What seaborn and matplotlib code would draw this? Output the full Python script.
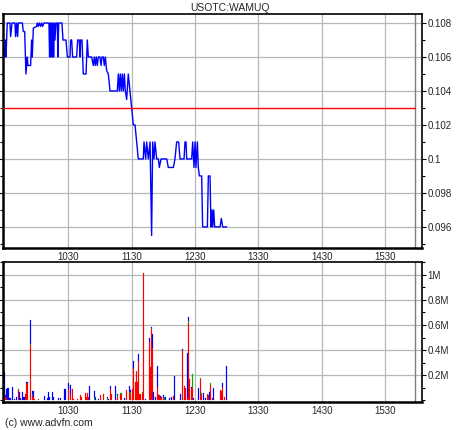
import matplotlib
matplotlib.use("Agg")
import matplotlib.pyplot as plt
from matplotlib.ticker import MultipleLocator
import seaborn as sns
import numpy as np
import pandas as pd

# ---------------- data ----------------
title = "USOTC:WAMUQ"
credit = "(c) www.advfn.com"
x_tick_labels = ["1030", "1130", "1230", "1330", "1430", "1530"]
session_window = ["0928", "1605"]
session_end = "1558"

price_ticks = [0.108, 0.106, 0.104, 0.102, 0.100, 0.098, 0.096]
price_tick_labels = ["0.108", "0.106", "0.104", "0.102", "0.1", "0.098", "0.096"]
vol_ticks = [1.0e6, 0.8e6, 0.6e6, 0.4e6, 0.2e6]
vol_tick_labels = ["1M", "0.8M", "0.6M", "0.4M", "0.2M"]
prev_close = 0.103

# trade times (minutes after midnight) and prices
price_times = [567.9, 568.6, 569.8, 570.5, 571.1, 572.3, 574.9, 575.5, 576.8, 579.6,
               580.2, 581.2, 582.1, 582.8, 586.6, 587.5, 588.8, 590.0, 591.3, 591.9,
               594.4, 595.4, 596.0, 597.0, 600.1, 600.8, 601.7, 602.7, 603.9, 604.9,
               605.8, 607.1, 611.8, 612.4, 613.1, 613.7, 614.3, 615.0, 615.6, 616.2,
               616.9, 617.5, 618.4, 619.7, 620.3, 621.0, 624.1, 625.1, 627.9, 629.2,
               631.7, 632.3, 633.3, 634.2, 638.0, 639.0, 640.5, 641.2, 641.8, 643.1,
               644.3, 646.9, 648.1, 649.1, 652.2, 653.8, 654.7, 655.7, 656.6, 657.6,
               658.5, 660.1, 661.1, 662.0, 663.3, 664.2, 665.2, 666.4, 668.0, 669.6,
               676.5, 677.5, 678.4, 679.4, 680.3, 681.3, 682.2, 683.2, 684.1, 685.4,
               686.9, 688.5, 690.1, 691.7, 693.3, 694.8, 696.4, 701.1, 701.8, 703.4,
               704.3, 705.9, 707.5, 709.0, 710.0, 711.3, 712.2, 713.8, 715.4, 716.3,
               717.9, 723.3, 724.8, 729.6, 731.1, 732.7, 734.6, 735.9, 739.7, 740.6,
               741.6, 742.2, 746.9, 747.9, 749.1, 750.1, 751.0, 752.3, 753.2, 754.2,
               756.4, 757.3, 761.8, 762.7, 764.3, 765.2, 766.2, 766.8, 767.8, 768.7,
               773.8, 775.0, 776.3, 780.1]
prices = [0.107, 0.106, 0.106, 0.107, 0.106, 0.108, 0.108, 0.1072, 0.108, 0.108,
          0.1072, 0.108, 0.1072, 0.108, 0.108, 0.1075, 0.1075, 0.105, 0.106, 0.1055,
          0.1055, 0.107, 0.106, 0.1077, 0.1078, 0.108, 0.1078, 0.108, 0.1078, 0.108,
          0.1078, 0.108, 0.108, 0.106, 0.108, 0.106, 0.108, 0.106, 0.108, 0.106,
          0.108, 0.107, 0.108, 0.108, 0.106, 0.108, 0.108, 0.107, 0.107, 0.106,
          0.106, 0.107, 0.107, 0.106, 0.106, 0.107, 0.107, 0.106, 0.107, 0.107,
          0.105, 0.105, 0.107, 0.106, 0.106, 0.1055, 0.106, 0.1055, 0.106, 0.1055,
          0.106, 0.106, 0.1055, 0.106, 0.106, 0.1055, 0.106, 0.1052, 0.105, 0.104,
          0.104, 0.105, 0.104, 0.105, 0.104, 0.105, 0.104, 0.105, 0.104, 0.1035,
          0.105, 0.104, 0.103, 0.102, 0.102, 0.101, 0.100, 0.100, 0.101, 0.100,
          0.101, 0.100, 0.101, 0.0955, 0.101, 0.100, 0.101, 0.100, 0.100, 0.0995,
          0.100, 0.100, 0.0995, 0.0995, 0.100, 0.101, 0.101, 0.100, 0.100, 0.101,
          0.101, 0.100, 0.100, 0.101, 0.0995, 0.101, 0.0995, 0.101, 0.0995, 0.099,
          0.099, 0.096, 0.096, 0.099, 0.099, 0.096, 0.097, 0.096, 0.097, 0.096,
          0.096, 0.0965, 0.096, 0.096]

# volume per minute (thousands of shares), split by trade direction
vol_minutes = [569, 570, 571, 572, 573, 574, 575, 577, 579, 581, 583, 584, 585, 587, 588,
               589, 590, 591, 594, 596, 597, 598, 602, 608, 610, 611, 612, 615, 616, 621,
               623, 627, 630, 632, 634, 635, 639, 642, 643, 646, 647, 648, 649, 650, 655,
               656, 659, 661, 663, 667, 668, 670, 671, 675, 677, 680, 683, 685, 688, 689,
               691, 692, 694, 695, 696, 697, 698, 700, 701, 703, 707, 708, 709, 710, 711,
               713, 715, 716, 717, 718, 720, 721, 722, 726, 728, 730, 731, 736, 738, 740,
               741, 743, 744, 745, 747, 748, 749, 753, 755, 756, 758, 760, 762, 763, 764,
               765, 767, 768, 774, 775, 776, 778, 780]
vol_down = [31, 30, 36, 20, 0, 0, 0, 0, 0, 0, 85, 0, 0, 0, 0,
            0, 49, 137, 439, 44, 25, 15, 15, 0, 0, 0, 0, 0, 0, 0,
            0, 0, 89, 44, 89, 15, 15, 44, 31, 57, 31, 57, 31, 0, 0,
            0, 0, 47, 52, 0, 0, 89, 52, 0, 31, 55, 0, 81, 68, 55,
            95, 255, 148, 228, 148, 313, 55, 60, 1012, 0, 468, 268, 569, 420, 0,
            0, 108, 41, 28, 20, 31, 0, 0, 0, 0, 36, 0, 0, 404, 116,
            97, 17, 617, 169, 103, 97, 0, 0, 169, 44, 0, 0, 49, 44, 0,
            124, 17, 0, 84, 76, 111, 31, 0]
vol_unch = [0, 0, 0, 0, 0, 0, 0, 0, 0, 0, 6, 0, 0, 0, 0,
            0, 0, 0, 10, 8, 0, 0, 0, 0, 0, 0, 0, 0, 0, 0,
            0, 0, 0, 0, 0, 0, 0, 0, 0, 0, 0, 0, 0, 0, 31,
            0, 0, 0, 0, 22, 0, 0, 0, 0, 13, 5, 0, 0, 0, 13,
            0, 0, 0, 5, 0, 0, 0, 8, 0, 0, 0, 0, 8, 0, 0,
            0, 0, 0, 0, 0, 0, 31, 0, 0, 0, 0, 0, 0, 0, 0,
            0, 0, 14, 0, 0, 115, 0, 0, 8, 13, 0, 0, 0, 0, 0,
            13, 0, 0, 0, 0, 0, 0, 0]
vol_up = [261, 200, 5, 70, 97, 20, 22, 105, 15, 25, 4, 71, 17, 65, 25,
          25, 0, 11, 195, 27, 54, 0, 0, 36, 17, 68, 25, 68, 25, 22,
          20, 92, 51, 80, 0, 0, 0, 0, 0, 0, 0, 0, 0, 119, 48,
          31, 15, 0, 0, 3, 15, 27, 0, 116, 5, 0, 20, 0, 48, 19,
          0, 61, 0, 0, 0, 59, 0, 0, 0, 15, 32, 0, 8, 107, 68,
          31, 168, 6, 8, 8, 15, 0, 31, 17, 31, 3, 191, 52, 8, 0,
          0, 360, 32, 0, 8, 0, 17, 97, 0, 6, 63, 20, 0, 0, 71,
          0, 0, 97, 0, 0, 26, 0, 271]


def hhmm(s):
    return int(s[:-2]) * 60 + int(s[-2:])


# ---------------- figure ----------------
sns.set_style("white")
plt.rcParams["font.family"] = ["Liberation Sans", "DejaVu Sans"]
FS = 7

fig = plt.figure(figsize=(4.6, 4.3), dpi=100)
ax1 = fig.add_axes([2.7 / 460, 1 - 248 / 430, (422 - 2.7) / 460, (248 - 14) / 430])
ax2 = fig.add_axes([2.7 / 460, 1 - 401.7 / 430, (422 - 2.7) / 460, (401.7 - 262) / 430])

xlo, xhi = hhmm(session_window[0]), hhmm(session_window[1])
xt = [hhmm(s) for s in x_tick_labels]
grid_c = "#b4baba"

# price panel
price_df = pd.DataFrame({"t": price_times, "p": prices})
sns.lineplot(data=price_df, x="t", y="p", sort=False, estimator=None,
             color="#0000ff", lw=1.0, ax=ax1)
ax1.axhline(prev_close, xmin=0, xmax=(hhmm(session_end) - xlo) / (xhi - xlo),
            color="#ff0000", lw=1.0, zorder=3)

# volume panel
vol_df = pd.DataFrame({"t": vol_minutes, "down": vol_down, "unch": vol_unch, "up": vol_up})
long = vol_df.melt(id_vars="t", var_name="side", value_name="v")
long["v"] = long["v"] * 1000.0
sns.histplot(data=long, x="t", weights="v", hue="side", hue_order=["up", "unch", "down"],
             palette={"up": "#0000ff", "unch": "#00b000", "down": "#ff0000"},
             multiple="stack", binwidth=1.0,
             binrange=(min(vol_minutes) - 0.5, max(vol_minutes) + 0.5),
             element="bars", alpha=1.0, linewidth=0,
             antialiased=True, legend=False, ax=ax2)
for p in ax2.patches:
    if p.get_height() > 0:
        p.set_edgecolor(p.get_facecolor())
        p.set_linewidth(0.15)
    else:
        p.set_visible(False)

for ax in (ax1, ax2):
    ax.set_xlim(xlo, xhi)
    ax.set_xticks(xt)
    ax.set_xticklabels(x_tick_labels, fontsize=FS)
    ax.set_xlabel("")
    ax.set_ylabel("")
    ax.grid(True, color=grid_c, lw=0.9)
    ax.set_axisbelow(True)
    ax.axvline(hhmm(session_end), color="#7a7f8f", lw=1.0, zorder=1)
    for sp in ax.spines.values():
        sp.set_visible(True)
        sp.set_color("black")
        sp.set_linewidth(1.2)
    ax.spines["left"].set_linewidth(1.8)
    ax.spines["bottom"].set_linewidth(1.8)
    ax.tick_params(axis="x", length=0, pad=3, labelsize=FS)
    ax.yaxis.tick_right()
    ax.tick_params(axis="y", which="major", right=True, left=True, direction="out",
                   length=3, width=0.8, pad=1, labelsize=FS, color="black")
    ax.tick_params(axis="y", which="minor", right=True, left=True, length=2, width=0.8,
                   color="black")

ax1.set_ylim(0.09476, 0.10853)
ax1.set_yticks(price_ticks)
ax1.set_yticklabels(price_tick_labels)
ax1.yaxis.set_minor_locator(MultipleLocator(0.001))

ax2.set_ylim(-9600, 1.1016e6)
ax2.set_yticks(vol_ticks)
ax2.set_yticklabels(vol_tick_labels)
ax2.yaxis.set_minor_locator(MultipleLocator(1e5))

fig.text(230 / 460, 1 - 8 / 430, title, ha="center", va="center", fontsize=7.5)
fig.text(5 / 460, 1 - 423 / 430, credit, ha="left", va="center", fontsize=7.5)

fig.savefig("out.png", dpi=100)
